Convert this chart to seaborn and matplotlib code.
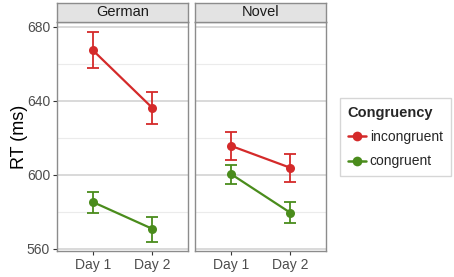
import numpy as np
import pandas as pd
import matplotlib
matplotlib.use("Agg")
import matplotlib.pyplot as plt
from matplotlib.lines import Line2D
import seaborn as sns

# data
panels = ["German", "Novel"]
days = ["Day 1", "Day 2"]
conditions = ["incongruent", "congruent"]
german_incongruent = [667.5, 636.3]
german_incongruent_lo = [657.8, 627.8]
german_incongruent_hi = [677.2, 644.9]
german_congruent = [585.4, 570.9]
german_congruent_lo = [579.6, 563.9]
german_congruent_hi = [590.8, 577.4]
novel_incongruent = [615.8, 603.9]
novel_incongruent_lo = [608.1, 596.2]
novel_incongruent_hi = [623.3, 611.5]
novel_congruent = [600.6, 579.6]
novel_congruent_lo = [595.2, 574.1]
novel_congruent_hi = [605.4, 585.4]

colors = {"incongruent": "#d42a2a", "congruent": "#4a8c1c"}

rows = []
series = {
    ("German", "incongruent"): (german_incongruent, german_incongruent_lo, german_incongruent_hi),
    ("German", "congruent"): (german_congruent, german_congruent_lo, german_congruent_hi),
    ("Novel", "incongruent"): (novel_incongruent, novel_incongruent_lo, novel_incongruent_hi),
    ("Novel", "congruent"): (novel_congruent, novel_congruent_lo, novel_congruent_hi),
}
for (panel, cond), (vals, lo, hi) in series.items():
    for i, day in enumerate(days):
        rows.append({"panel": panel, "cond": cond, "day": day, "x": i,
                     "rt": vals[i], "lo": lo[i], "hi": hi[i]})
df = pd.DataFrame(rows)

sns.set_style("white")
plt.rcParams["font.family"] = ["Liberation Sans", "DejaVu Sans"]

fig = plt.figure(figsize=(4.54, 2.77), dpi=100)
W, H = 454, 277
panel_x = [(57, 188), (195, 326)]
top, bottom = 22, 251
grey_text = "#4d4d4d"

for k, panel in enumerate(panels):
    x0, x1 = panel_x[k]
    ax = fig.add_axes([x0 / W, 1 - bottom / H, (x1 - x0) / W, (bottom - top) / H])
    sub = df[df["panel"] == panel]
    for y in [580, 620, 660]:
        ax.axhline(y, color="#ebebeb", lw=0.8, zorder=0)
    for y in [560, 600, 640, 680]:
        ax.axhline(y, color="#d0d0d0", lw=1.1, zorder=0)
    for cond in conditions:
        s = sub[sub["cond"] == cond]
        ax.errorbar(s["x"], s["rt"], yerr=[s["rt"] - s["lo"], s["hi"] - s["rt"]],
                    fmt="none", ecolor=colors[cond], elinewidth=1.3, capsize=4,
                    capthick=1.3, zorder=2)
    sns.lineplot(data=sub, x="x", y="rt", hue="cond", hue_order=conditions,
                 palette=colors, marker="o", markersize=6.5, markeredgewidth=0,
                 lw=1.6, legend=False, ax=ax, zorder=3)
    ax.set_xlim(-0.6, 1.6)
    ax.set_ylim(558.9, 682.7)
    ax.set_xticks([0, 1])
    ax.set_xticklabels(days)
    ax.set_yticks([560, 600, 640, 680])
    ax.set_xlabel("")
    ax.tick_params(axis="both", length=3, width=0.8, color="#333333",
                   labelsize=10, labelcolor=grey_text, pad=2, bottom=True, left=(k == 0))
    if k == 0:
        ax.set_ylabel("RT (ms)", fontsize=13, color="black", labelpad=-1)
    else:
        ax.set_ylabel("")
        ax.set_yticklabels([])
    for sp in ax.spines.values():
        sp.set_color("#8c8c8c")
        sp.set_linewidth(1.0)

    sax = fig.add_axes([x0 / W, 1 - top / H, (x1 - x0) / W, 19 / H])
    sax.set_facecolor("#e3e3e3")
    sax.set_xticks([])
    sax.set_yticks([])
    for sp in sax.spines.values():
        sp.set_color("#8c8c8c")
        sp.set_linewidth(1.0)
    sax.text(0.5, 0.5, panel, ha="center", va="center", fontsize=10.5,
             color="#1a1a1a", transform=sax.transAxes)

handles = [Line2D([0], [0], color=colors[c], marker="o", markersize=7,
                  markeredgewidth=0, lw=1.8) for c in conditions]
leg = fig.legend(handles, conditions, title="Congruency", loc="upper left",
                 bbox_to_anchor=(340 / W, 1 - 98 / H), borderaxespad=0,
                 frameon=True, fontsize=10,
                 title_fontproperties={"weight": "bold", "size": 10.5},
                 handlelength=1.3, borderpad=0.55, labelspacing=0.75,
                 handletextpad=0.3, alignment="left", fancybox=False)
leg.get_frame().set_edgecolor("#cccccc")
leg.get_frame().set_linewidth(1.0)

fig.savefig("out.png", dpi=100)
